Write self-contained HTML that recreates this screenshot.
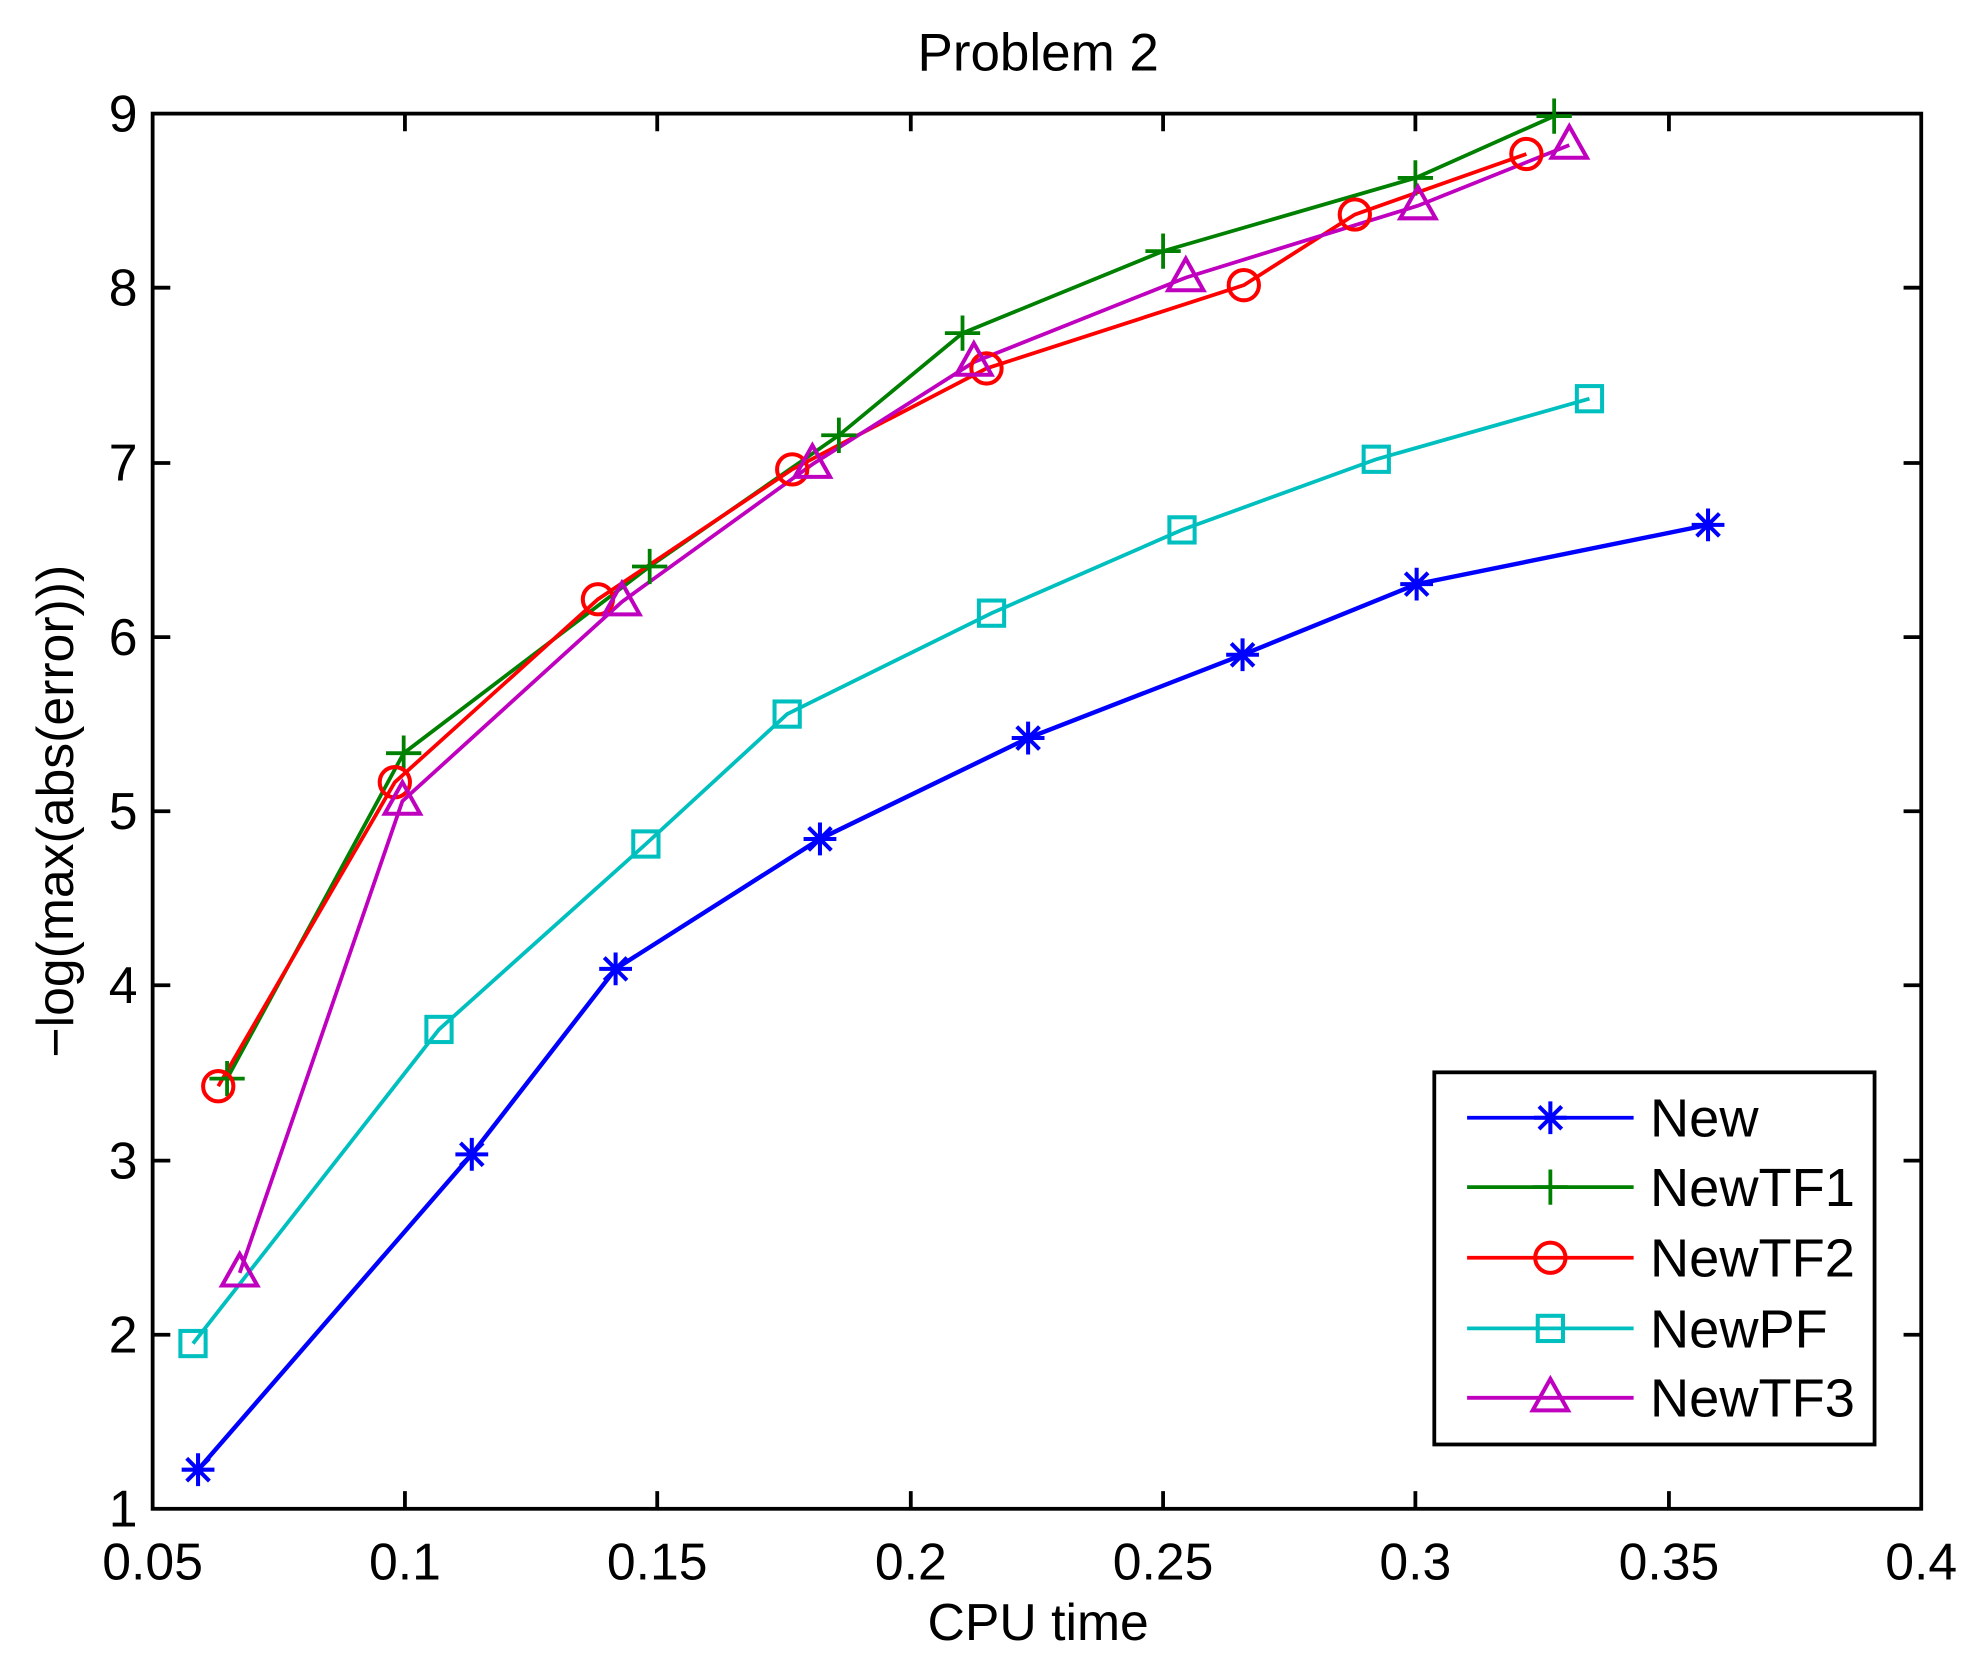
<!DOCTYPE html>
<html><head><meta charset="utf-8"><style>html,body{margin:0;padding:0;background:#fff}svg{display:block}</style></head>
<body>
<svg width="1978" height="1659" viewBox="0 0 1568 1315" xmlns="http://www.w3.org/2000/svg" font-family="Liberation Sans, Arial, sans-serif">
<defs>
<g id="star" stroke="#0000ff" stroke-width="3.2" fill="none"><path d="M-13 0H13M0 -13V13M-9 -9L9 9M-9 9L9 -9"/></g>
<g id="plus" stroke="#008000" stroke-width="3" fill="none"><path d="M-14 0H14M0 -14V14"/></g>
<g id="circ" stroke="#ff0000" stroke-width="3.2" fill="none"><circle r="12"/></g>
<g id="sq" stroke="#00bfbf" stroke-width="3.2" fill="none"><rect x="-10" y="-10" width="20" height="20"/></g>
<g id="tri" stroke="#bf00bf" stroke-width="3.2" fill="none"><path d="M0 -15L14 10H-14Z"/></g>
</defs>
<rect width="1568" height="1315" fill="#fff"/>
<text x="823" y="56" font-size="42" text-anchor="middle">Problem 2</text>
<g stroke="#000" stroke-width="3" fill="none">
<rect x="121" y="90" width="1402" height="1106"/>
<path d="M321 1196v-14M521 1196v-14M722 1196v-14M922 1196v-14M1122 1196v-14M1323 1196v-14M321 90v14M521 90v14M722 90v14M922 90v14M1122 90v14M1323 90v14
M121 1058h14M121 920h14M121 781h14M121 643h14M121 505h14M121 367h14M121 228h14M1523 1058h-14M1523 920h-14M1523 781h-14M1523 643h-14M1523 505h-14M1523 367h-14M1523 228h-14"/>
</g>
<g font-size="41" text-anchor="middle">
<text x="121" y="1252">0.05</text><text x="321" y="1252">0.1</text><text x="521" y="1252">0.15</text><text x="722" y="1252">0.2</text><text x="922" y="1252">0.25</text><text x="1122" y="1252">0.3</text><text x="1323" y="1252">0.35</text><text x="1523" y="1252">0.4</text>
</g>
<g font-size="41" text-anchor="end">
<text x="109" y="1210">1</text><text x="109" y="1072">2</text><text x="109" y="934">3</text><text x="109" y="795">4</text><text x="109" y="657">5</text><text x="109" y="519">6</text><text x="109" y="381">7</text><text x="109" y="242">8</text><text x="109" y="104">9</text>
</g>
<text x="823" y="1300" font-size="41" text-anchor="middle">CPU time</text>
<text transform="translate(58,643) rotate(-90)" font-size="41" text-anchor="middle">−log(max(abs(error)))</text>

<g fill="none" stroke-width="3">
<polyline stroke="#008000" points="180,855 320,597 515,449 665,345 763,264 922,199 1122,141 1232,92"/>
<polyline stroke="#ff0000" points="173,861 313,620 474,475 628,372 782,292 986,226 1074,170 1210,122"/>
<polyline stroke="#bf00bf" points="190,1009 319,635 493,477 644,368 772,287 940,220 1124,163 1244,115"/>
<polyline stroke="#00bfbf" points="153,1065 348,816 512,669 624,566 786,486 937,420 1091,364 1260,316"/>
<polyline stroke="#0000ff" stroke-width="3.5" points="157,1165 374,915 488,768 650,665 815,585 985,519 1123,463 1354,416"/>
</g>
<use href="#plus" x="180" y="855"/><use href="#plus" x="320" y="597"/><use href="#plus" x="515" y="449"/><use href="#plus" x="665" y="345"/><use href="#plus" x="763" y="264"/><use href="#plus" x="922" y="199"/><use href="#plus" x="1122" y="141"/><use href="#plus" x="1232" y="92"/>
<use href="#circ" x="173" y="861"/><use href="#circ" x="313" y="620"/><use href="#circ" x="474" y="475"/><use href="#circ" x="628" y="372"/><use href="#circ" x="782" y="292"/><use href="#circ" x="986" y="226"/><use href="#circ" x="1074" y="170"/><use href="#circ" x="1210" y="122"/>
<use href="#tri" x="190" y="1009"/><use href="#tri" x="319" y="635"/><use href="#tri" x="493" y="477"/><use href="#tri" x="644" y="368"/><use href="#tri" x="772" y="287"/><use href="#tri" x="940" y="220"/><use href="#tri" x="1124" y="163"/><use href="#tri" x="1244" y="115"/>
<use href="#sq" x="153" y="1065"/><use href="#sq" x="348" y="816"/><use href="#sq" x="512" y="669"/><use href="#sq" x="624" y="566"/><use href="#sq" x="786" y="486"/><use href="#sq" x="937" y="420"/><use href="#sq" x="1091" y="364"/><use href="#sq" x="1260" y="316"/>
<use href="#star" x="157" y="1165"/><use href="#star" x="374" y="915"/><use href="#star" x="488" y="768"/><use href="#star" x="650" y="665"/><use href="#star" x="815" y="585"/><use href="#star" x="985" y="519"/><use href="#star" x="1123" y="463"/><use href="#star" x="1354" y="416"/>

<rect x="1137" y="850" width="349" height="295" fill="#fff" stroke="#000" stroke-width="3"/>
<g stroke-width="3">
<line x1="1163" y1="886" x2="1295" y2="886" stroke="#0000ff"/>
<line x1="1163" y1="941" x2="1295" y2="941" stroke="#008000"/>
<line x1="1163" y1="997" x2="1295" y2="997" stroke="#ff0000"/>
<line x1="1163" y1="1053" x2="1295" y2="1053" stroke="#00bfbf"/>
<line x1="1163" y1="1108" x2="1295" y2="1108" stroke="#bf00bf"/>
</g>
<use href="#star" x="1229" y="886"/><use href="#plus" x="1229" y="941"/><use href="#circ" x="1229" y="997"/><use href="#sq" x="1229" y="1053"/><use href="#tri" x="1229" y="1108"/>
<g font-size="43">
<text x="1308" y="901">New</text><text x="1308" y="956">NewTF1</text><text x="1308" y="1012">NewTF2</text><text x="1308" y="1068">NewPF</text><text x="1308" y="1123">NewTF3</text>
</g>
</svg>
</body></html>
